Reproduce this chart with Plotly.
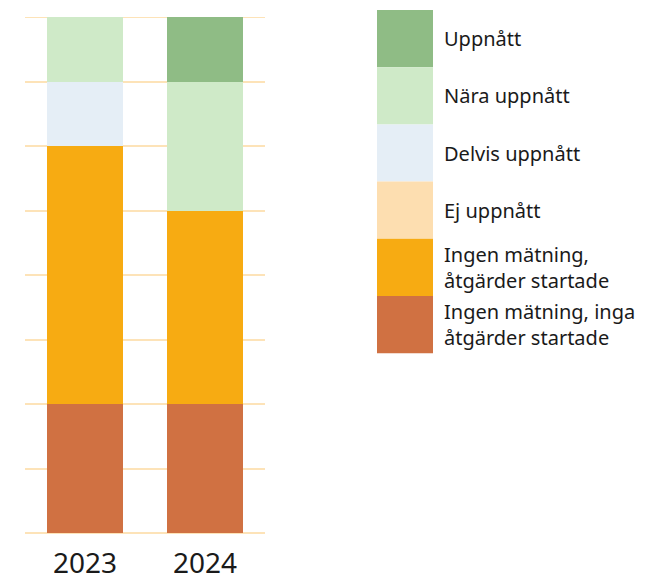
import plotly.graph_objects as go

# Data
years = ["2023", "2024"]
ingen_inga = [2, 2]
ingen_atgarder = [4, 3]
ej_uppnatt = [0, 0]
delvis_uppnatt = [1, 0]
nara_uppnatt = [1, 2]
uppnatt = [0, 1]

# Series in stacking order (bottom to top)
series_names = [
    "Ingen mätning, inga<br>åtgärder startade",
    "Ingen mätning,<br>åtgärder startade",
    "Ej uppnått",
    "Delvis uppnått",
    "Nära uppnått",
    "Uppnått",
]
series_values = [ingen_inga, ingen_atgarder, ej_uppnatt, delvis_uppnatt, nara_uppnatt, uppnatt]
series_colors = ["#d07142", "#f7ab12", "#fddeb0", "#e5eef6", "#cfeac8", "#8fbc85"]

# page body has an 8px margin, so the figure is a bit smaller and offset
OFF = 8
W, H = 646 - OFF, 577 - OFF
# plot area in window pixels
X0, X1, Y0, Y1 = 25, 265, 17, 533
L, R, T, B = X0 - OFF, 646 - X1, Y0 - OFF, 577 - Y1
PW = X1 - X0
PH = Y1 - Y0
GRID = "#fde3b8"


def px_x(x):
    return (x - X0) / PW


def px_y(y):
    return (Y1 - y) / PH


fig = go.Figure()
for name, vals, col in zip(series_names, series_values, series_colors):
    fig.add_trace(go.Bar(x=years, y=vals, name=name, marker_color=col,
                         marker_line_width=0, showlegend=False))

# top gridline (plotly drops the one at the range edge)
fig.add_shape(type="line", xref="paper", yref="y", x0=0, x1=1, y0=8, y1=8,
              line=dict(color=GRID, width=2), layer="below")

# Custom legend with big swatches, top to bottom
sw_top, sw_h = 10, 57.2
for i, (name, col) in enumerate(zip(series_names[::-1], series_colors[::-1])):
    y0 = sw_top + i * sw_h
    fig.add_shape(type="rect", xref="paper", yref="paper",
                  x0=px_x(377), x1=px_x(433), y0=px_y(y0 + sw_h), y1=px_y(y0),
                  fillcolor=col, line_width=0, layer="above")
    fig.add_annotation(text=name, xref="paper", yref="paper",
                       x=px_x(442), y=px_y(y0 + sw_h / 2), xanchor="left",
                       yanchor="middle", align="left", showarrow=False,
                       font=dict(size=20, color="#1a1a1a", family="Noto Sans"))

fig.update_layout(
    width=W, height=H, barmode="stack", bargap=0.366,
    margin=dict(l=L, r=R, t=T, b=B, autoexpand=False),
    paper_bgcolor="white", plot_bgcolor="white",
    font=dict(family="Noto Sans", color="#1a1a1a"),
)
fig.update_xaxes(range=[-0.5, 1.5], showgrid=False, showline=False, automargin=False,
                 tickfont=dict(size=28, color="#1a1a1a"), ticks="outside",
                 ticklen=5, tickcolor="white")
fig.update_yaxes(range=[0, 8], dtick=1, showticklabels=False, gridcolor=GRID,
                 gridwidth=2, zeroline=True, zerolinecolor=GRID, automargin=False,
                 zerolinewidth=2, showline=False)

fig.write_html("out.html")
